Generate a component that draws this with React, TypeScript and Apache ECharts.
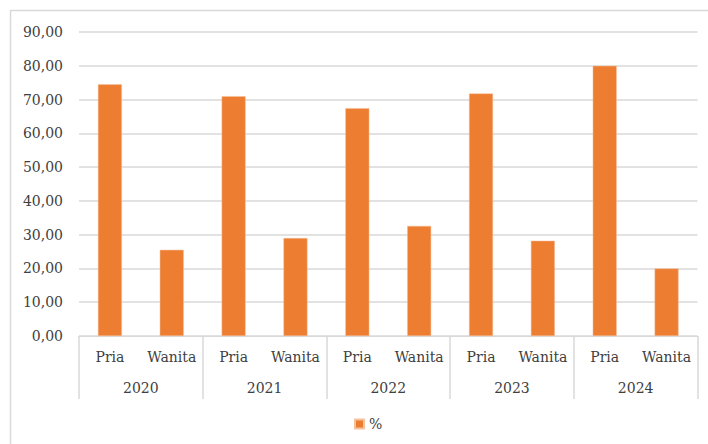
import React, { useEffect, useRef } from "react";
import * as echarts from "echarts";

const years = ["2020", "2021", "2022", "2023", "2024"];
const genders = ["Pria", "Wanita"];
const priaValues = [74.5, 71.0, 67.4, 71.8, 80.0];
const wanitaValues = [25.5, 29.0, 32.6, 28.2, 20.0];
const seriesName = "%";

const FONT = "DejaVu Serif";
const TEXT = "#404040";
const LINE = "#d9d9d9";
const FS = 14;

export default function App() {
  const ref = useRef<HTMLDivElement>(null);
  useEffect(() => {
    if (!ref.current) return;
    const chart = echarts.init(ref.current, undefined, { renderer: "svg" });
    const cats: string[] = [];
    const vals: number[] = [];
    years.forEach((_, i) => {
      cats.push(genders[0]);
      vals.push(priaValues[i]);
      cats.push(genders[1]);
      vals.push(wanitaValues[i]);
    });
    chart.setOption({
      animation: false,
      backgroundColor: "#ffffff",
      textStyle: { fontFamily: FONT },
      graphic: [
        {
          type: "rect",
          shape: { x: 10.5, y: 10.5, width: 720, height: 460 },
          style: { fill: "none", stroke: LINE, lineWidth: 1.5 },
          silent: true,
        },
      ],
      grid: { left: 79, right: 10.5, top: 32, bottom: 108, containLabel: false },
      legend: {
        data: [seriesName],
        left: 354,
        top: 417,
        padding: 0,
        itemWidth: 9,
        itemHeight: 9,
        itemGap: 10,
        icon: "rect",
        textStyle: { fontFamily: FONT, fontSize: FS, color: TEXT },
      },
      xAxis: [
        {
          type: "category",
          data: cats,
          position: "bottom",
          axisLine: { lineStyle: { color: LINE, width: 1 } },
          axisTick: { show: false },
          axisLabel: {
            interval: 0,
            margin: 14,
            fontFamily: FONT,
            fontSize: FS,
            color: TEXT,
          },
        },
        {
          type: "category",
          data: years,
          position: "bottom",
          axisLine: { lineStyle: { color: LINE, width: 1 } },
          axisTick: { show: true, length: 63, lineStyle: { color: LINE, width: 1.5 } },
          axisLabel: {
            interval: 0,
            margin: 45,
            fontFamily: FONT,
            fontSize: FS,
            color: TEXT,
          },
        },
      ],
      yAxis: {
        type: "value",
        min: 0,
        max: 90,
        interval: 10,
        axisLine: { show: false },
        axisTick: { show: false },
        splitLine: { lineStyle: { color: LINE, width: 1.5 } },
        axisLabel: {
          margin: 16,
          fontFamily: FONT,
          fontSize: FS,
          color: TEXT,
          formatter: (v: number) => v.toFixed(2).replace(".", ","),
        },
      },
      series: [
        {
          name: seriesName,
          type: "bar",
          xAxisIndex: 0,
          data: vals,
          barWidth: 24,
          itemStyle: { color: "#ED7D31", borderColor: "#f6c19d", borderWidth: 0.5 },
        },
      ],
    });
    return () => chart.dispose();
  }, []);
  return <div ref={ref} style={{ width: 708, height: 444, position: "absolute", left: 0, top: 0 }} />;
}
